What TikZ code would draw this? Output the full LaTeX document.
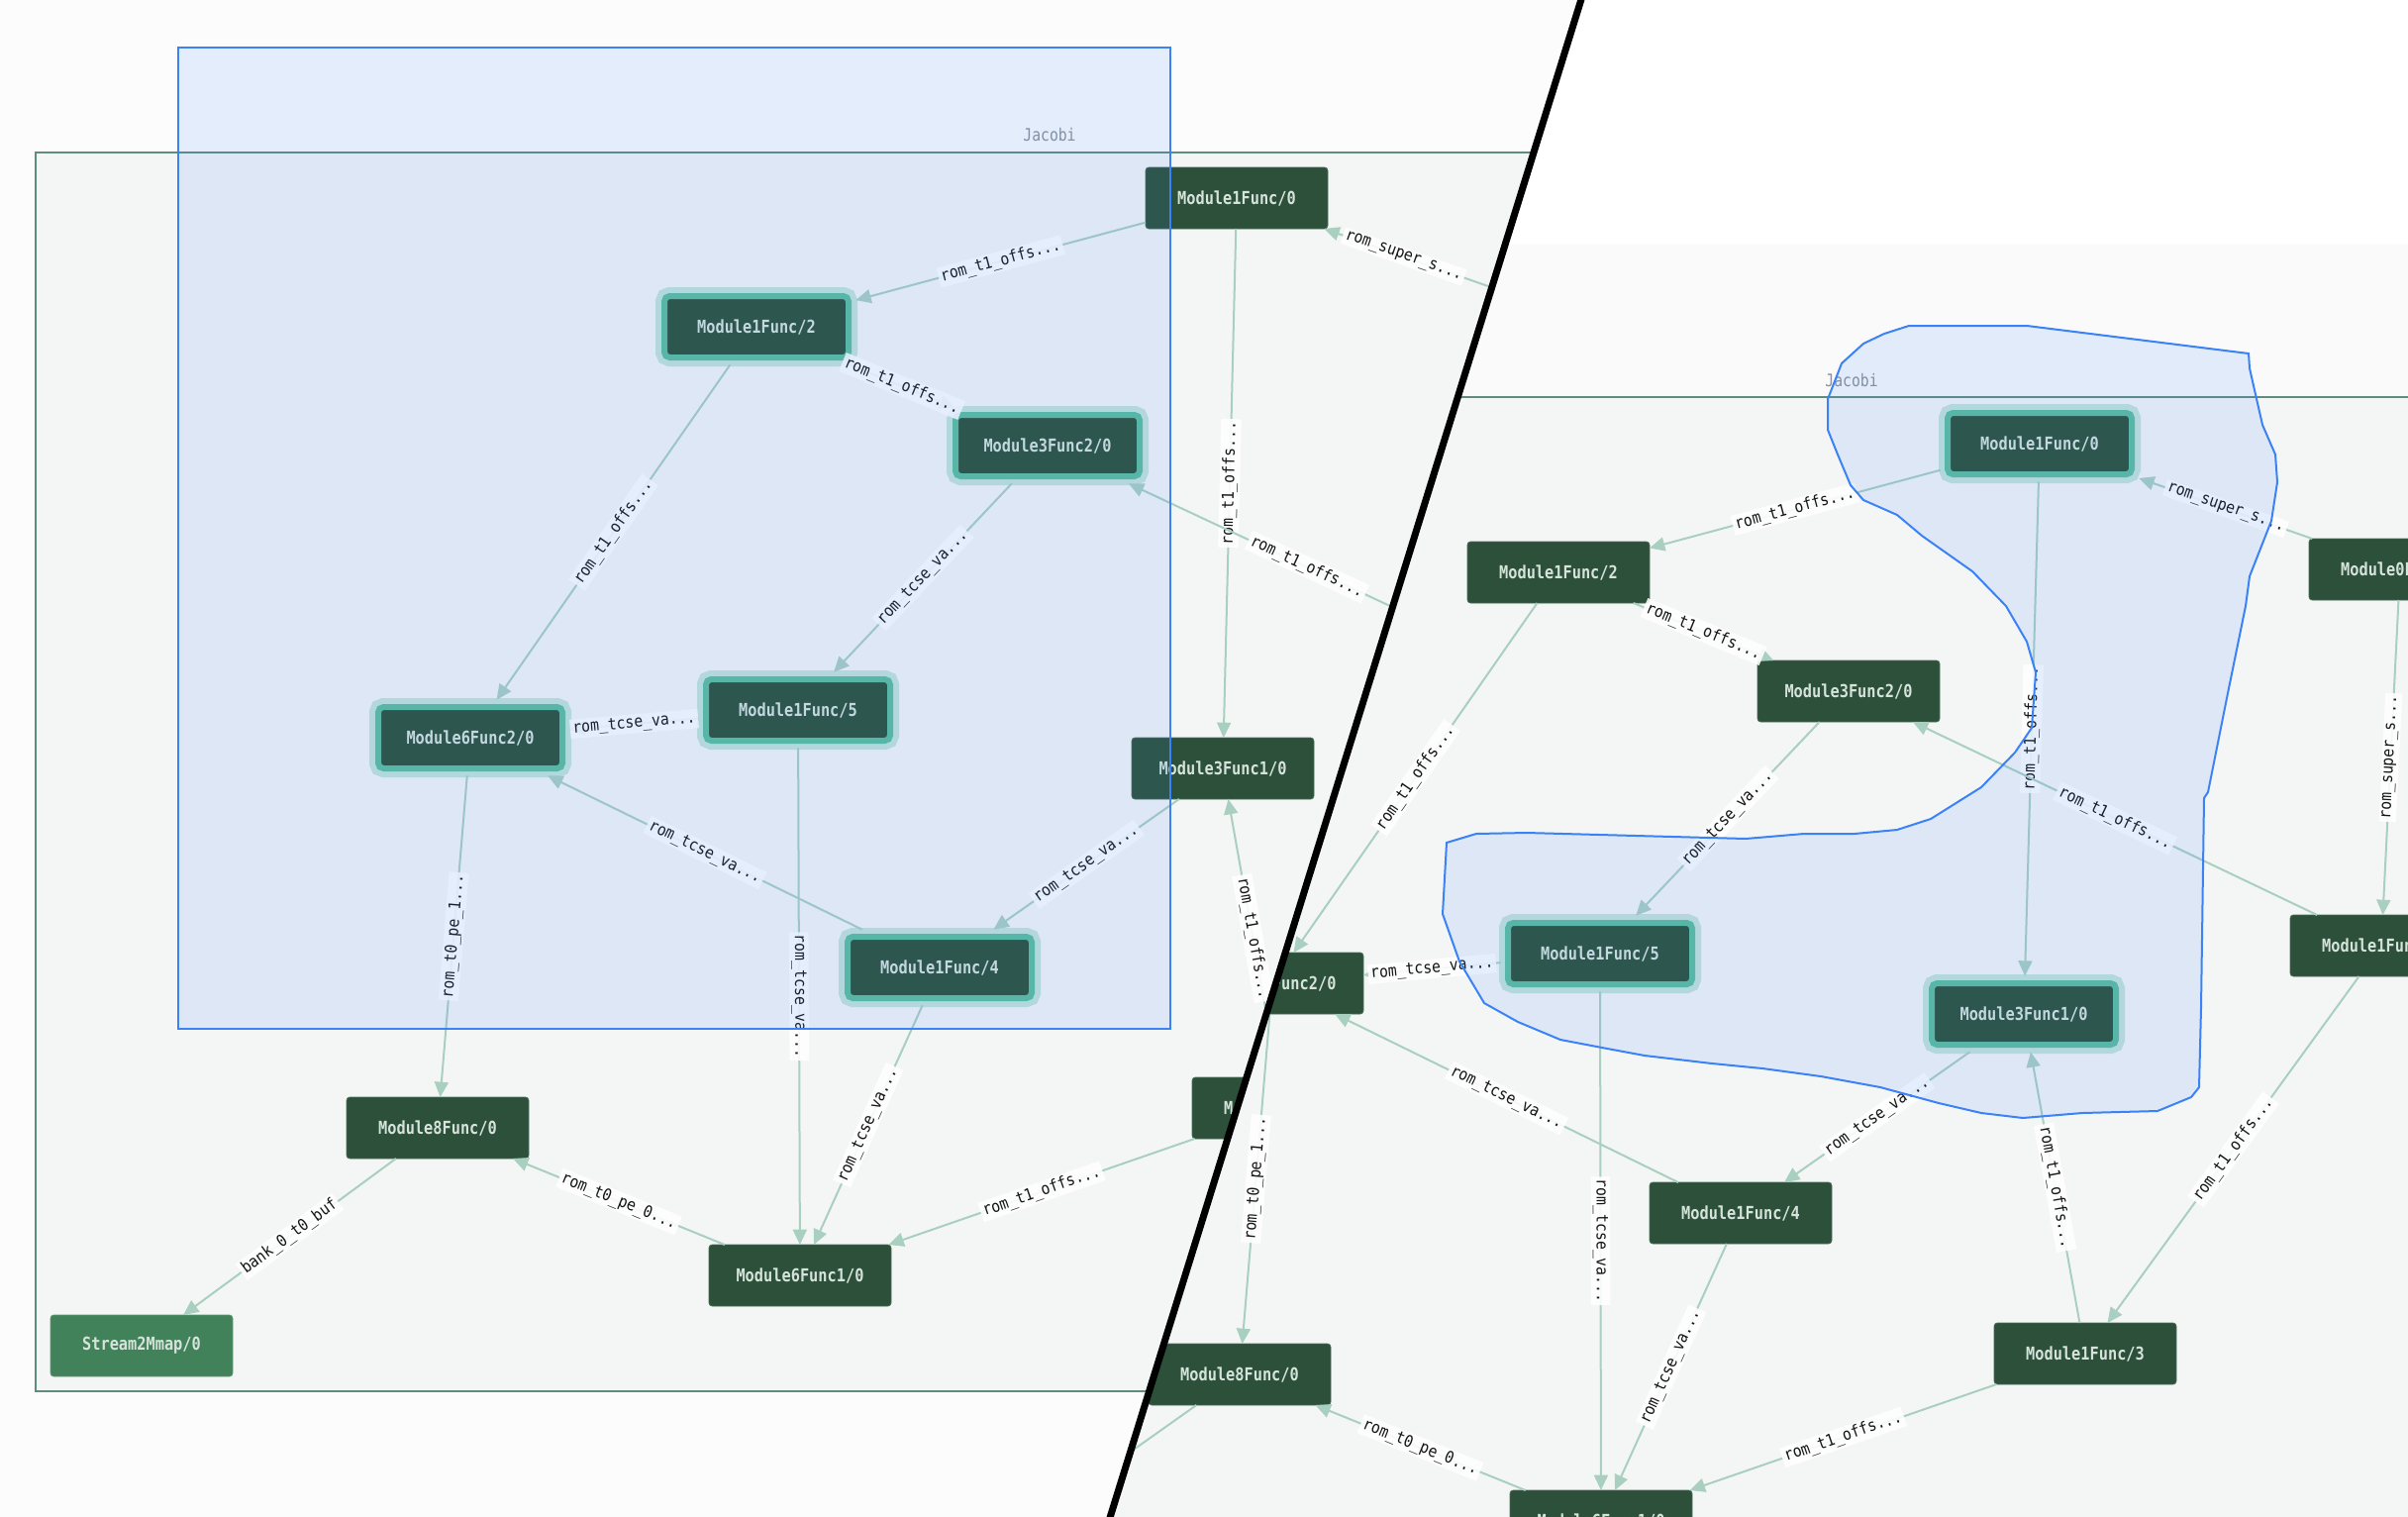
\documentclass[tikz,border=0pt]{standalone}
\usepackage{fontspec}
\usetikzlibrary{arrows.meta}
\newfontfamily\nodefont[FakeStretch=0.85]{DejaVu Sans Mono}
\newfontfamily\labfont[FakeStretch=0.9]{DejaVu Sans Mono}
\definecolor{outerbg}{HTML}{FCFCFC}
\definecolor{rbg}{HTML}{FAFAFA}
\definecolor{clfill}{HTML}{F4F6F5}
\definecolor{clborder}{HTML}{5F8C7C}
\definecolor{nodefill}{HTML}{2C5039}
\definecolor{nodeedge}{HTML}{4A6B57}
\definecolor{nodetext}{HTML}{D5E3DB}
\definecolor{s2mfill}{HTML}{42825A}
\definecolor{s2medge}{HTML}{5E9874}
\definecolor{edgecol}{HTML}{A9CFC0}
\definecolor{hlgreen}{HTML}{5CBE9D}
\definecolor{glow}{HTML}{C3E3DA}
\definecolor{selblue}{HTML}{3B82F6}
\definecolor{jactext}{HTML}{8B929B}
\definecolor{labtext}{HTML}{151515}
\begin{document}
\begin{tikzpicture}[x=0.75pt,y=-0.75pt,
  fnode/.style={rectangle, rounded corners=2.5pt, fill=nodefill, draw=nodeedge, line width=0.6pt,
    minimum width=138pt, minimum height=46.5pt, inner sep=0pt, outer sep=0pt, text=nodetext,
    font=\nodefont\bfseries\fontsize{13.5pt}{16pt}\selectfont},
  hlnode/.style={fnode, minimum width=139.5pt, minimum height=46.5pt, draw=hlgreen, line width=4.5pt,
    rounded corners=4pt, outer sep=5.5pt, preaction={draw=glow, line width=13.5pt}},
  s2mnode/.style={fnode, fill=s2mfill, draw=s2medge},
  edge/.style={draw=edgecol, line width=1.5pt, -{Triangle[length=11.5pt,width=10.5pt]}},
  elab/.style={midway, sloped, fill=white, fill opacity=0.88, text opacity=1, text=labtext,
    inner xsep=2pt, inner ysep=1.5pt, font=\labfont\fontsize{12.3pt}{14pt}\selectfont},
  sel/.style={fill=selblue, fill opacity=0.12, draw=selblue, draw opacity=1, line width=1.5pt},
  jac/.style={text=jactext, inner sep=0pt, font=\nodefont\fontsize{13pt}{15pt}\selectfont},
]
\useasboundingbox (0,0) rectangle (2432,1532);

% ---------------- LEFT PANEL ----------------
\begin{scope}
\clip (0,0) -- (1597,0) -- (1121,1532) -- (0,1532) -- cycle;
\fill[outerbg] (0,0) rectangle (1700,1532);
\draw[clborder, line width=1.5pt, fill=clfill] (36,154) rectangle (2100,1405);
\node[jac] (jacL) at (1060,136) {Jacobi};

\node[fnode]  (LM1F0) at (1249,200) {Module1Func/0};
\node[hlnode] (LM1F2) at (764,330) {Module1Func/2};
\node[hlnode] (LM3F2) at (1058,450) {Module3Func2/0};
\node[hlnode] (LM1F5) at (806,717) {Module1Func/5};
\node[hlnode] (LM6F2) at (475,745) {Module6Func2/0};
\node[fnode]  (LM3F1) at (1235,776) {Module3Func1/0};
\node[hlnode] (LM1F4) at (949,977) {Module1Func/4};
\node[fnode]  (LM8F0) at (442,1139) {Module8Func/0};
\node[fnode]  (LM6F1) at (808,1288) {Module6Func1/0};
\node[s2mnode] (LS2M) at (143,1359) {Stream2Mmap/0};
\node[fnode]  (LM1F3) at (1296,1119) {Module1Func/3};
\coordinate (cLM0F0) at (1560,309);
\coordinate (cLM1F1) at (1500,657);

\draw[edge] (LM1F0) -- node[elab]{rom\_t1\_offs...} (LM1F2);
\draw[edge] (LM1F2) -- node[elab]{rom\_t1\_offs...} (LM3F2);
\draw[edge] (LM1F2) -- node[elab]{rom\_t1\_offs...} (LM6F2);
\draw[edge] (LM3F2) -- node[elab]{rom\_tcse\_va...} (LM1F5);
\draw[edge] (LM1F5) -- node[elab]{rom\_tcse\_va...} (LM6F2);
\draw[edge] (LM1F4) -- node[elab]{rom\_tcse\_va...} (LM6F2);
\draw[edge] (LM1F5) -- node[elab]{rom\_tcse\_va...} (LM6F1);
\draw[edge] (LM1F4) -- node[elab]{rom\_tcse\_va...} (LM6F1);
\draw[edge] (LM3F1) -- node[elab]{rom\_tcse\_va...} (LM1F4);
\draw[edge] (LM6F2) -- node[elab]{rom\_t0\_pe\_1...} (LM8F0);
\draw[edge] (LM6F1) -- node[elab]{rom\_t0\_pe\_0...} (LM8F0);
\draw[edge] (LM8F0) -- node[elab]{bank\_0\_t0\_buf} (LS2M);
\draw[edge] (LM1F3) -- node[elab]{rom\_t1\_offs...} (LM6F1);
\draw[edge] (LM1F0) -- node[elab]{rom\_t1\_offs...} (LM3F1);
\draw[edge] (LM1F3) -- node[elab]{rom\_t1\_offs...} (LM3F1);
\draw[edge] (cLM1F1) -- node[elab]{rom\_t1\_offs...} (LM3F2);
\draw[edge] (cLM0F0) -- node[elab, pos=0.64]{rom\_super\_s...} (LM1F0);

\path[sel] (180,48) rectangle (1182,1039);
\end{scope}

% ---------------- RIGHT PANEL ----------------
\begin{scope}
\clip (1597,0) -- (2432,0) -- (2432,1532) -- (1121,1532) -- cycle;
\fill[white] (1000,0) rectangle (2432,247);
\fill[rbg] (1000,247) rectangle (2432,1532);
\draw[clborder, line width=1.5pt, fill=clfill] (900,401) rectangle (2600,1700);
\node[jac] (jacR) at (1870,384) {Jacobi};

\node[hlnode] (RM1F0) at (2060,448) {Module1Func/0};
\node[fnode]  (RM0F0) at (2424,575) {Module0Func/0};
\node[fnode]  (RM1F2) at (1574,578) {Module1Func/2};
\node[fnode]  (RM3F2) at (1867,698) {Module3Func2/0};
\node[fnode]  (RM1F1) at (2405,955) {Module1Func/1};
\node[fnode]  (RM6F2) at (1285,993) {Module6Func2/0};
\node[hlnode] (RM1F5) at (1616,963) {Module1Func/5};
\node[hlnode] (RM3F1) at (2044,1024) {Module3Func1/0};
\node[fnode]  (RM1F4) at (1758,1225) {Module1Func/4};
\node[fnode]  (RM1F3) at (2106,1367) {Module1Func/3};
\node[fnode]  (RM8F0) at (1252,1388) {Module8Func/0};
\node[fnode]  (RM6F1) at (1617,1536) {Module6Func1/0};
\coordinate (cRS2M) at (1080,1510);

\draw[edge] (RM1F0) -- node[elab]{rom\_t1\_offs...} (RM1F2);
\draw[edge] (RM0F0) -- node[elab]{rom\_super\_s...} (RM1F0);
\draw[edge] (RM1F2) -- node[elab]{rom\_t1\_offs...} (RM3F2);
\draw[edge] (RM1F2) -- node[elab]{rom\_t1\_offs...} (RM6F2);
\draw[edge] (RM1F0) -- node[elab]{rom\_t1\_offs...} (RM3F1);
\draw[edge] (RM3F2) -- node[elab]{rom\_tcse\_va...} (RM1F5);
\draw[edge] (RM1F1) -- node[elab]{rom\_t1\_offs...} (RM3F2);
\draw[edge] (RM0F0) -- node[elab]{rom\_super\_s...} (RM1F1);
\draw[edge] (RM1F5) -- node[elab]{rom\_tcse\_va...} (RM6F2);
\draw[edge] (RM1F4) -- node[elab]{rom\_tcse\_va...} (RM6F2);
\draw[edge] (RM3F1) -- node[elab]{rom\_tcse\_va...} (RM1F4);
\draw[edge] (RM1F3) -- node[elab]{rom\_t1\_offs...} (RM3F1);
\draw[edge] (RM1F1) -- node[elab]{rom\_t1\_offs...} (RM1F3);
\draw[edge] (RM1F5) -- node[elab]{rom\_tcse\_va...} (RM6F1);
\draw[edge] (RM1F4) -- node[elab]{rom\_tcse\_va...} (RM6F1);
\draw[edge] (RM1F3) -- node[elab]{rom\_t1\_offs...} (RM6F1);
\draw[edge] (RM6F1) -- node[elab]{rom\_t0\_pe\_0...} (RM8F0);
\draw[edge] (RM6F2) -- node[elab]{rom\_t0\_pe\_1...} (RM8F0);
\draw[edge] (RM8F0) -- (cRS2M);

\path[sel] (1928,329) -- (2047,329) -- (2271,357) -- (2272,372) -- (2285,429) -- (2298,459)
  -- (2300,487) -- (2294,526) -- (2272,582) -- (2268,612) -- (2250,700) -- (2230,800)
  -- (2226,806) -- (2223,1018) -- (2221,1098) -- (2213,1108) -- (2179,1122) -- (2103,1124)
  -- (2043,1129) -- (2001,1124) -- (1958,1114) -- (1899,1098) -- (1839,1087) -- (1780,1079)
  -- (1729,1074) -- (1661,1066) -- (1618,1058) -- (1576,1050) -- (1533,1032) -- (1499,1013)
  -- (1474,971) -- (1457,923) -- (1461,851) -- (1491,842) -- (1542,841) -- (1652,844)
  -- (1763,847) -- (1822,842) -- (1873,842) -- (1916,838) -- (1950,827) -- (2001,795)
  -- (2035,760) -- (2052,735) -- (2056,679) -- (2047,648) -- (2026,612) -- (1992,577)
  -- (1941,541) -- (1916,520) -- (1882,505) -- (1869,490) -- (1856,459) -- (1846,434)
  -- (1846,403) -- (1860,367) -- (1882,347) -- (1903,337) -- cycle;
\end{scope}

% divider
\draw[line width=5.25pt] (1603,-20) -- (1115,1552);
\end{tikzpicture}
\end{document}
